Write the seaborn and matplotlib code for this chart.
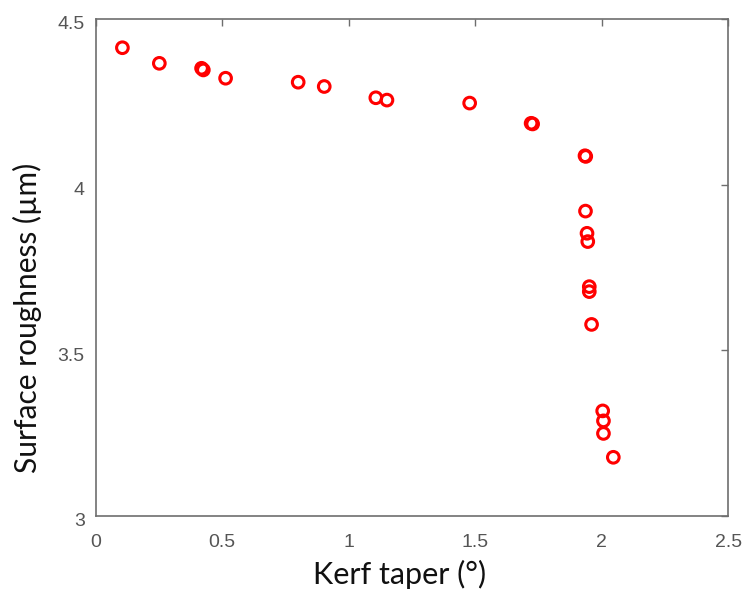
import matplotlib
matplotlib.use("Agg")
import matplotlib.pyplot as plt
import matplotlib.transforms as mtransforms
import seaborn as sns
import pandas as pd

kerf_taper = [0.105, 0.251, 0.418, 0.425, 0.513, 0.800, 0.903, 1.107, 1.151, 1.478,
              1.721, 1.727, 1.934, 1.937, 1.936, 1.942, 1.945, 1.951, 1.951, 1.960,
              2.004, 2.007, 2.007, 2.046]
surface_roughness = [4.413, 4.366, 4.351, 4.346, 4.321, 4.309, 4.296, 4.262, 4.255, 4.246,
                     4.185, 4.183, 4.087, 4.085, 3.920, 3.853, 3.828, 3.692, 3.677, 3.578,
                     3.317, 3.287, 3.249, 3.177]
x_ticks = [0, 0.5, 1, 1.5, 2, 2.5]
x_tick_labels = ["0", "0.5", "1", "1.5", "2", "2.5"]
y_ticks = [3, 3.5, 4, 4.5]
y_tick_labels = ["3", "3.5", "4", "4.5"]

df = pd.DataFrame({"Kerf taper": kerf_taper, "Surface roughness": surface_roughness})

sns.set_style("white")
fig = plt.figure(figsize=(7.43, 5.91), dpi=100)
ax = fig.add_axes([0.129, 0.127, 0.851, 0.841])

sns.scatterplot(data=df, x="Kerf taper", y="Surface roughness", ax=ax,
                marker="o", s=70, facecolor="none", edgecolor="#ff0000", linewidth=2.2)

ax.set_xlim(0, 2.5)
ax.set_ylim(3, 4.5)
ax.set_xticks(x_ticks)
ax.set_xticklabels(x_tick_labels)
ax.set_yticks(y_ticks)
ax.set_yticklabels(y_tick_labels)

gray = "#555555"
for sp in ax.spines.values():
    sp.set_visible(True)
    sp.set_color("#6e6e6e")
    sp.set_linewidth(1.2)
ax.tick_params(direction="in", length=5, width=1, color="#6e6e6e",
               top=True, right=True, labelcolor=gray, labelsize=14)
ax.tick_params(axis="x", pad=13)
ax.tick_params(axis="y", pad=8)
offset = mtransforms.ScaledTranslation(0, -4 / 100, fig.dpi_scale_trans)
for lab in ax.get_yticklabels():
    lab.set_transform(lab.get_transform() + offset)
for lab in ax.get_xticklabels() + ax.get_yticklabels():
    lab.set_fontfamily("Liberation Sans")

ax.set_xlabel("Kerf taper (°)", fontsize=22, family="Lato", color="#111111")
ax.set_ylabel("Surface roughness (µm)", fontsize=21.5, family="Lato", color="#111111")
ax.xaxis.set_label_coords(0.481, -0.088)
ax.yaxis.set_label_coords(-0.085, 0.398)

fig.savefig("out.png", dpi=100, facecolor="white")
